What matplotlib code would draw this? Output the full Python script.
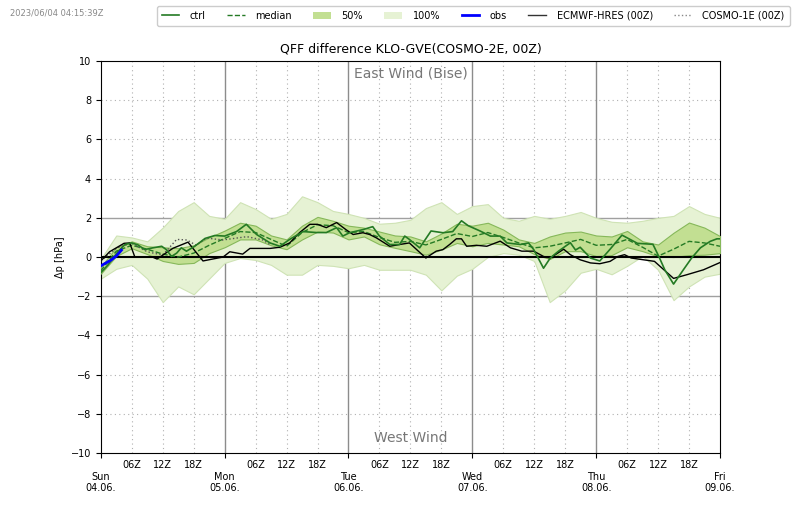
import numpy as np
import matplotlib
matplotlib.use("Agg")
import matplotlib.pyplot as plt
from matplotlib.lines import Line2D
from matplotlib.patches import Patch

# ensemble statistics, every 3 h from Sun 00Z (hours since start)
ens_t = np.arange(0, 121, 3)
p100_hi = [-0.1, 1.1, 1.0, 0.8, 1.5, 2.35, 2.8, 2.1, 1.95,
           2.8, 2.45, 1.95, 2.2, 3.1, 2.8, 2.35, 2.2,
           2.0, 1.7, 1.75, 1.9, 2.5, 2.8, 2.2, 2.6,
           2.7, 2.0, 1.85, 2.1, 1.95, 2.1, 2.3, 2.0,
           1.8, 1.75, 1.85, 2.0, 2.1, 2.6, 2.2, 2.0]
p100_lo = [-1.1, -0.6, -0.4, -1.1, -2.3, -1.5, -1.9, -1.1, -0.3,
           -0.05, -0.15, -0.4, -0.9, -0.9, -0.4, -0.45, -0.57,
           -0.4, -0.65, -0.65, -0.65, -0.9, -1.7, -0.95, -0.6,
           0.0, 0.2, 0.12, -0.2, -2.3, -1.7, -0.8, -0.6,
           -0.88, -0.45, 0.05, -0.65, -2.2, -1.5, -1.0, -0.85]
p50_hi = [-0.5, 0.5, 0.8, 0.55, 0.5, 0.45, 0.6, 1.0, 1.35,
          1.75, 1.6, 1.1, 0.9, 1.6, 2.05, 1.85, 1.6,
          1.5, 1.3, 1.1, 1.05, 0.8, 1.2, 1.7, 1.6,
          1.75, 1.4, 0.9, 0.72, 1.05, 1.25, 1.3, 1.1,
          1.05, 1.33, 0.8, 0.64, 1.24, 1.76, 1.5, 1.07]
p50_lo = [-0.85, 0.05, 0.45, 0.15, -0.2, -0.35, -0.3, 0.2, 0.5,
          0.9, 0.9, 0.6, 0.4, 0.9, 1.3, 1.25, 0.9,
          1.05, 0.65, 0.47, 0.3, 0.12, 0.38, 0.72, 0.55,
          0.72, 0.64, 0.55, 0.15, -0.1, 0.3, 0.3, 0.05,
          0.1, 0.5, 0.3, 0.03, 0.0, 0.1, 0.12, 0.2]
median = [-0.7, 0.3, 0.6, 0.4, 0.15, 0.0, 0.2, 0.6, 0.95,
          1.3, 1.25, 0.9, 0.55, 1.25, 1.65, 1.6, 1.25,
          1.3, 1.0, 0.75, 0.8, 0.62, 0.9, 1.2, 1.05,
          1.25, 1.0, 0.72, 0.47, 0.55, 0.72, 0.9, 0.6,
          0.64, 0.9, 0.5, 0.05, 0.4, 0.8, 0.72, 0.55]

ctrl_t = [0, 1.4, 3.4, 4.7, 6, 7.2, 8.5, 10.1, 11.8, 12.7, 13.7, 14.7, 15.6, 16.6,
          18.2, 20.2, 22.1, 24, 26.3, 28.2, 30.2, 32.8, 34.7, 36.6, 39.2, 41.8,
          43.7, 45.7, 46.9, 48.2, 50.8, 52.7, 54.0, 56.0, 57.9, 58.9, 59.8, 61.8,
          64.0, 66.3, 68.2, 69.9, 71.2, 73.5, 75.5, 77.4, 78.7, 81.3, 82.9, 83.9,
          85.8, 87.1, 88.7, 91.0, 92.0, 92.9, 94.9, 96.7, 98.7, 101.0, 104.0,
          107.0, 108.2, 109.3, 111.0, 112.9, 114.5, 116.2, 118.1, 119.4, 120]
ctrl = [-0.8, -0.4, 0.3, 0.64, 0.72, 0.62, 0.38, 0.47, 0.55, 0.38, 0.03, 0.2, 0.47, 0.3,
        0.55, 0.95, 1.1, 1.07, 1.3, 1.67, 1.15, 0.72, 0.55, 0.9, 1.3, 1.25,
        1.25, 1.5, 1.07, 1.24, 1.4, 1.55, 1.07, 0.64, 0.64, 1.07, 0.9, 0.47,
        1.33, 1.24, 1.3, 1.85, 1.6, 1.33, 1.07, 1.07, 0.72, 0.64, 0.72, 0.38,
        -0.57, -0.05, 0.3, 0.73, 0.36, 0.5, -0.05, -0.2, 0.4, 1.12, 0.7,
        0.65, 0.0, -0.65, -1.38, -0.65, -0.05, 0.47, 0.8, 0.93, 0.93]

obs_t = [0, 1, 2, 3, 4]
obs = [-0.45, -0.3, -0.15, 0.05, 0.35]

ecmwf_t = [0, 1.7, 4.5, 5.6, 6.6, 10, 10.9, 14, 16.9, 19.8, 21.7, 23.7, 25, 27.5,
           28.9, 32.8, 34.7, 36.6, 38.5, 40.5, 42, 43.7, 45.7, 47.5, 48.9, 50.8,
           52.1, 53.4, 56, 57.9, 59.8, 63, 65, 66.3, 67.6, 68.9, 69.9, 70.9, 72.8,
           74.8, 77.4, 79.4, 81.6, 83.9, 85.8, 87.1, 89.7, 91, 92.9, 94.9, 96.7,
           98.7, 100.2, 101.5, 102.8, 107.3, 111, 113.6, 116.8, 120]
ecmwf = [-0.2, 0.27, 0.7, 0.72, 0.0, 0.0, -0.1, 0.45, 0.76, -0.2, -0.1, 0.0, 0.27, 0.15,
         0.44, 0.44, 0.5, 0.72, 1.24, 1.67, 1.67, 1.5, 1.76, 1.4, 1.15, 1.24,
         1.15, 0.98, 0.55, 0.64, 0.72, -0.05, 0.3, 0.38, 0.64, 0.93, 0.93, 0.55, 0.6,
         0.55, 0.81, 0.47, 0.3, 0.3, 0.03, -0.05, 0.4, 0.12, -0.14, -0.3, -0.34,
         -0.22, 0.03, 0.12, -0.05, -0.22, -1.09, -0.9, -0.65, -0.28]

cosmo1_t = [0, 3, 6, 9, 12, 14.7, 16.7, 18.5, 20.5, 23.6, 28.3, 31.4, 33]
cosmo1 = [-0.2, 0.45, 0.7, 0.27, 0.1, 0.9, 0.87, 0.6, 0.97, 0.87, 1.04, 0.87, 0.6]

day_labels = ["Sun\n04.06.", "Mon\n05.06.", "Tue\n06.06.", "Wed\n07.06.", "Thu\n08.06.", "Fri\n09.06."]
hour_labels = ["06Z", "12Z", "18Z"]

c100 = "#e6f2d4"
c50 = "#c2df92"
cgreen = "#247a24"

fig = plt.figure(figsize=(8, 5.09), dpi=100)
ax = fig.add_axes([0.126, 0.110, 0.774, 0.770])

# grid
for h in range(6, 120, 6):
    if h % 24 == 0:
        ax.axvline(h, color="#8c8c8c", lw=1.0, zorder=1)
    else:
        ax.axvline(h, color="#b0b0b0", lw=0.8, ls=(0, (1, 3)), zorder=1)
for v in range(-8, 10, 2):
    if abs(v) == 2:
        ax.axhline(v, color="#a0a0a0", lw=1.0, zorder=1)
    elif v != 0:
        ax.axhline(v, color="#b0b0b0", lw=0.8, ls=(0, (1, 3)), zorder=1)

ax.fill_between(ens_t, p100_lo, p100_hi, facecolor=c100, edgecolor="#cfe3b5", lw=0.8, zorder=2)
ax.fill_between(ens_t, p50_lo, p50_hi, facecolor=c50, edgecolor="#86b85a", lw=0.8, zorder=3)
ax.axhline(0, color="black", lw=1.5, zorder=4)
ax.plot(ens_t, median, color=cgreen, ls="--", lw=1.0, zorder=5)
ax.plot(cosmo1_t, cosmo1, color="#555555", ls=":", lw=1.0, zorder=5)
ax.plot(ecmwf_t, ecmwf, color="black", lw=1.0, zorder=6)
ax.plot(ctrl_t, ctrl, color=cgreen, lw=1.2, zorder=7)
ax.plot(obs_t, obs, color="blue", lw=2.0, zorder=8)

ax.set_xlim(0, 120)
ax.set_ylim(-10, 10)
ax.set_yticks(range(-10, 11, 2))
ax.set_xticks(range(0, 121, 24))
ax.set_xticklabels(day_labels)
minor = [d * 24 + h for d in range(5) for h in (6, 12, 18)]
ax.set_xticks(minor, minor=True)
ax.set_xticklabels(hour_labels * 5, minor=True)
ax.tick_params(axis="x", which="major", length=3.5, pad=10, labelsize=7)
ax.tick_params(axis="x", which="minor", length=0, pad=5, labelsize=7)
ax.tick_params(axis="y", labelsize=7, length=3.5)
ax.set_ylabel("Δp [hPa]", fontsize=7)
ax.set_title("QFF difference KLO-GVE(COSMO-2E, 00Z)", fontsize=9)

ax.text(60, 9.35, "East Wind (Bise)", ha="center", va="center", color="#777777", fontsize=10)
ax.text(60, -9.25, "West Wind", ha="center", va="center", color="#777777", fontsize=10)

fig.text(0.012, 0.974, "2023/06/04 04:15:39Z", fontsize=6, color="#888888", va="center")

handles = [
    Line2D([], [], color=cgreen, lw=1.2),
    Line2D([], [], color=cgreen, lw=1.0, ls="--"),
    Patch(facecolor=c50, edgecolor="none"),
    Patch(facecolor=c100, edgecolor="none"),
    Line2D([], [], color="blue", lw=2.0),
    Line2D([], [], color="#333333", lw=1.0),
    Line2D([], [], color="#888888", lw=1.0, ls=":"),
]
labels = ["ctrl", "median", "50%", "100%", "obs", "ECMWF-HRES (00Z)", "COSMO-1E (00Z)"]
fig.legend(handles, labels, loc="upper right", bbox_to_anchor=(0.993, 0.998), ncol=7,
           fontsize=7, handlelength=1.8, handletextpad=1.1, columnspacing=2.2,
           borderpad=0.5, framealpha=1)

fig.savefig("out.png", dpi=100)
